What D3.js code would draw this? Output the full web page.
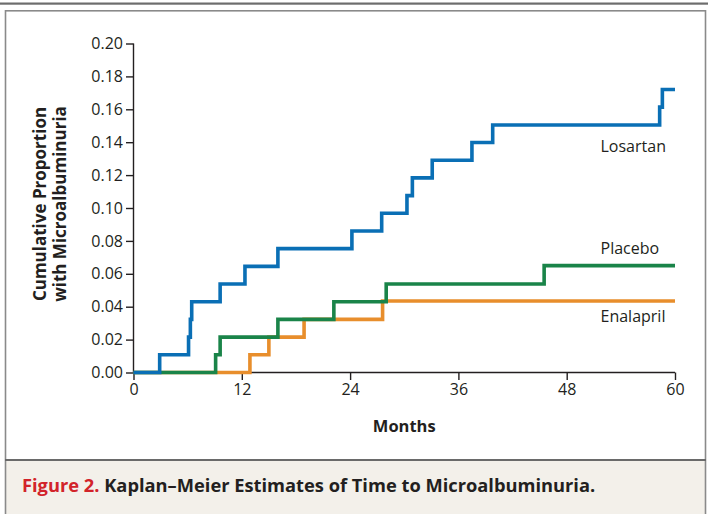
<!DOCTYPE html>
<html><head><meta charset="utf-8">
<script src="https://cdn.jsdelivr.net/npm/d3@7"></script>
<style>
html,body{margin:0;padding:0;background:#fff;}
svg{display:block;font-family:"Open Sans",sans-serif;}
</style></head>
<body>
<svg id="chart" width="708" height="514"></svg>
<script>
// ---- data (months, cumulative proportion) ----
const losartanMonths = [0, 2.9, 6.1, 6.3, 6.45, 9.6, 12.35, 16.0, 24.2, 27.5, 30.3, 30.9, 33.1, 37.5, 39.8, 58.3, 58.6, 60];
const losartanValues = [0, 0.0108, 0.0215, 0.0323, 0.043, 0.0538, 0.0645, 0.0753, 0.086, 0.0968, 0.1075, 0.1183, 0.129, 0.1398, 0.1505, 0.1613, 0.172, 0.172];
const placeboMonths = [0, 9.1, 9.6, 16.0, 22.2, 28.0, 45.5, 60];
const placeboValues = [0, 0.0108, 0.0215, 0.0323, 0.043, 0.0538, 0.065, 0.065];
const enalaprilMonths = [0, 12.9, 15.0, 18.9, 27.6, 60];
const enalaprilValues = [0, 0.0108, 0.0215, 0.0323, 0.0435, 0.0435];
const seriesNames = ["Enalapril", "Placebo", "Losartan"];
const xTicks = [0, 12, 24, 36, 48, 60];
const yTicks = [0, 0.02, 0.04, 0.06, 0.08, 0.10, 0.12, 0.14, 0.16, 0.18, 0.20];
const yTitle = ["Cumulative Proportion", "with Microalbuminuria"];
const xTitle = "Months";
const captionLead = "Figure 2.";
const captionText = " Kaplan\u2013Meier Estimates of Time to Microalbuminuria.";

const colors = {Losartan: "#0a6fb5", Placebo: "#1a8449", Enalapril: "#e88e2c"};
const ink = "#231f20";

const svg = d3.select("#chart");

// frame
svg.append("rect").attr("x", 0).attr("y", 2.5).attr("width", 708).attr("height", 2.2).attr("fill", "#6d6d6d");
svg.append("rect").attr("x", 5.5).attr("y", 460).attr("width", 700).attr("height", 60).attr("fill", "#f3f0ea");
svg.append("rect").attr("x", 5.5).attr("y", 10.8).attr("width", 700).attr("height", 520)
  .attr("fill", "none").attr("stroke", "#8a8a8a").attr("stroke-width", 1.6);
svg.append("line").attr("x1", 5).attr("x2", 706).attr("y1", 460).attr("y2", 460)
  .attr("stroke", "#6a6a6a").attr("stroke-width", 2);

const x = d3.scaleLinear().domain([0, 60]).range([133.5, 675]);
const y = d3.scaleLinear().domain([0, 0.20]).range([372.5, 43.5]);

// axes
const xAxis = d3.axisBottom(x).tickValues(xTicks).tickSize(7.5).tickPadding(4).tickFormat(d3.format("d"));
const yAxis = d3.axisLeft(y).tickValues(yTicks).tickSize(7.5).tickPadding(3).tickFormat(d3.format(".2f"));

const gx = svg.append("g").attr("transform", `translate(0,${y(0)})`).call(xAxis);
const gy = svg.append("g").attr("transform", `translate(${x(0)},0)`).call(yAxis);
[gx, gy].forEach(g => {
  g.select(".domain").attr("stroke", ink).attr("stroke-width", 1.4);
  g.selectAll(".tick line").attr("stroke", ink).attr("stroke-width", 1.4);
  g.selectAll(".tick text").attr("fill", ink).style("font-family", "'Open Sans',sans-serif").style("font-size", "16px");
});
gx.select(".domain").attr("d", `M${x(0)},0H${x(60)}`);
gy.select(".domain").attr("d", `M0,${y(0.2)}V${y(0)}`);

// lines
const line = d3.line().x(d => x(d[0])).y(d => y(d[1])).curve(d3.curveStepAfter);
const series = {
  Enalapril: d3.zip(enalaprilMonths, enalaprilValues),
  Placebo: d3.zip(placeboMonths, placeboValues),
  Losartan: d3.zip(losartanMonths, losartanValues)
};
seriesNames.forEach(n => {
  svg.append("path").datum(series[n]).attr("d", line)
    .attr("fill", "none").attr("stroke", colors[n]).attr("stroke-width", 3.6)
    .attr("stroke-linejoin", "miter").attr("stroke-linecap", "butt");
});

// series labels
const labelPos = {Losartan: [600.5, 152], Placebo: [600.5, 254], Enalapril: [600.5, 321.5]};
seriesNames.forEach(n => {
  svg.append("text").attr("x", labelPos[n][0]).attr("y", labelPos[n][1])
    .attr("fill", ink).style("font-size", "16px").text(n);
});

// axis titles
svg.append("text").attr("x", (x(0) + x(60)) / 2).attr("y", 431.5).attr("text-anchor", "middle")
  .attr("fill", ink).style("font-size", "16.5px").style("font-weight", "bold").text(xTitle);
yTitle.forEach((t, i) => {
  svg.append("text").attr("transform", `translate(${45.5 + i * 20},${204}) rotate(-90)`)
    .attr("text-anchor", "middle").attr("fill", ink)
    .style("font-size", "17px").style("font-weight", "bold").text(t);
});

// caption
const cap = svg.append("text").attr("x", 22).attr("y", 492).style("font-size", "18.3px").style("font-weight", "bold");
cap.append("tspan").attr("fill", "#d2232a").text(captionLead);
cap.append("tspan").attr("fill", ink).text(captionText);
</script>
</body></html>
